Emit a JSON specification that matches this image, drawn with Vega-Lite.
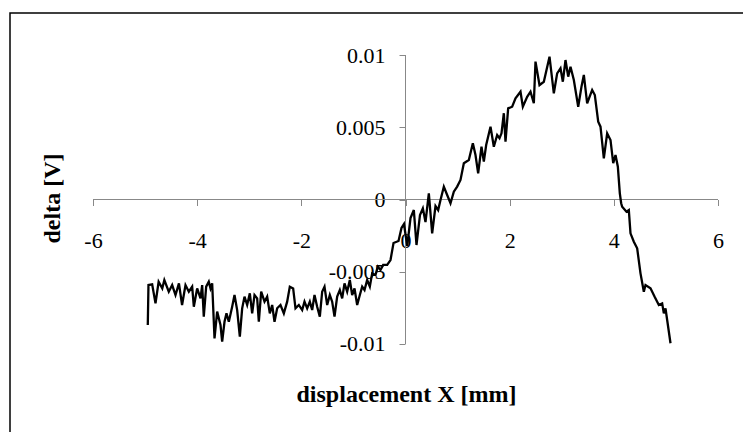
{
  "$schema": "https://vega.github.io/schema/vega-lite/v6.json",
  "width": 740,
  "height": 425,
  "autosize": "none",
  "padding": {"left": 10, "top": 13, "right": 0, "bottom": 0},
  "background": "white",
  "config": {
    "view": {"stroke": "black", "strokeWidth": 1.5},
    "axis": {
      "grid": false,
      "domain": false,
      "tickColor": "#888888",
      "tickSize": 6,
      "tickWidth": 1,
      "labelFont": "Liberation Serif",
      "labelFontSize": 22,
      "labelColor": "black",
      "labelFlush": false,
      "labelOverlap": false,
      "labelBound": false,
      "titleFont": "Liberation Serif",
      "titleFontSize": 24,
      "titleFontWeight": "bold",
      "titleColor": "black"
    }
  },
  "datasets": {
    "curve": [
      {"x": -4.948, "y": -0.00869}, {"x": -4.935, "y": -0.00592}, {"x": -4.864, "y": -0.00587}, {"x": -4.80, "y": -0.00719},
      {"x": -4.74, "y": -0.00569}, {"x": -4.67, "y": -0.00615}, {"x": -4.63, "y": -0.00557}, {"x": -4.545, "y": -0.00638},
      {"x": -4.48, "y": -0.00592}, {"x": -4.416, "y": -0.00661}, {"x": -4.35, "y": -0.0058}, {"x": -4.29, "y": -0.0073},
      {"x": -4.224, "y": -0.00592}, {"x": -4.16, "y": -0.00638}, {"x": -4.096, "y": -0.00603}, {"x": -4.064, "y": -0.00742},
      {"x": -4.00, "y": -0.00615}, {"x": -3.936, "y": -0.00684}, {"x": -3.904, "y": -0.00592}, {"x": -3.873, "y": -0.00811},
      {"x": -3.827, "y": -0.00603}, {"x": -3.777, "y": -0.00569}, {"x": -3.744, "y": -0.00615}, {"x": -3.712, "y": -0.0058},
      {"x": -3.667, "y": -0.00961}, {"x": -3.616, "y": -0.00776}, {"x": -3.552, "y": -0.00869}, {"x": -3.52, "y": -0.00984},
      {"x": -3.475, "y": -0.00846}, {"x": -3.437, "y": -0.00788}, {"x": -3.392, "y": -0.00846}, {"x": -3.328, "y": -0.00742},
      {"x": -3.283, "y": -0.00661}, {"x": -3.232, "y": -0.00765}, {"x": -3.181, "y": -0.00949}, {"x": -3.136, "y": -0.00753},
      {"x": -3.091, "y": -0.00672}, {"x": -3.04, "y": -0.0073}, {"x": -2.989, "y": -0.00649}, {"x": -2.944, "y": -0.00788},
      {"x": -2.899, "y": -0.00661}, {"x": -2.848, "y": -0.00684}, {"x": -2.816, "y": -0.00846}, {"x": -2.771, "y": -0.00638},
      {"x": -2.707, "y": -0.00707}, {"x": -2.656, "y": -0.00672}, {"x": -2.605, "y": -0.00788}, {"x": -2.56, "y": -0.0073},
      {"x": -2.515, "y": -0.00846}, {"x": -2.464, "y": -0.00753}, {"x": -2.40, "y": -0.0073}, {"x": -2.336, "y": -0.00788},
      {"x": -2.272, "y": -0.00707}, {"x": -2.221, "y": -0.00603}, {"x": -2.157, "y": -0.00615}, {"x": -2.112, "y": -0.00753},
      {"x": -2.048, "y": -0.0073}, {"x": -1.984, "y": -0.00765}, {"x": -1.939, "y": -0.00707}, {"x": -1.888, "y": -0.00753},
      {"x": -1.837, "y": -0.00707}, {"x": -1.792, "y": -0.00765}, {"x": -1.747, "y": -0.00661}, {"x": -1.696, "y": -0.00742},
      {"x": -1.645, "y": -0.00811}, {"x": -1.60, "y": -0.00638}, {"x": -1.555, "y": -0.00603}, {"x": -1.504, "y": -0.0073},
      {"x": -1.453, "y": -0.00661}, {"x": -1.408, "y": -0.00707}, {"x": -1.363, "y": -0.00811}, {"x": -1.312, "y": -0.00672},
      {"x": -1.261, "y": -0.00626}, {"x": -1.216, "y": -0.00684}, {"x": -1.171, "y": -0.0058}, {"x": -1.12, "y": -0.00638},
      {"x": -1.069, "y": -0.00557}, {"x": -1.024, "y": -0.00661}, {"x": -0.979, "y": -0.00615}, {"x": -0.928, "y": -0.0073},
      {"x": -0.877, "y": -0.00661}, {"x": -0.832, "y": -0.00603}, {"x": -0.787, "y": -0.00626}, {"x": -0.736, "y": -0.00557},
      {"x": -0.685, "y": -0.00603}, {"x": -0.64, "y": -0.00511}, {"x": -0.576, "y": -0.00522}, {"x": -0.531, "y": -0.00465},
      {"x": -0.48, "y": -0.00488}, {"x": -0.429, "y": -0.00453}, {"x": -0.352, "y": -0.00453}, {"x": -0.288, "y": -0.00419},
      {"x": -0.23, "y": -0.00301}, {"x": -0.134, "y": -0.00287}, {"x": -0.077, "y": -0.00197}, {"x": -0.029, "y": -0.0017},
      {"x": 0.033, "y": -0.00322}, {"x": 0.096, "y": -0.00128}, {"x": 0.16, "y": -0.00073}, {"x": 0.211, "y": -0.00315},
      {"x": 0.278, "y": -0.00107}, {"x": 0.333, "y": -0.00061}, {"x": 0.384, "y": -0.00156}, {"x": 0.448, "y": 0.00043},
      {"x": 0.512, "y": -0.00234}, {"x": 0.576, "y": -0.00045}, {"x": 0.627, "y": -0.00073}, {"x": 0.672, "y": -0.00003},
      {"x": 0.736, "y": 0.00089}, {"x": 0.80, "y": 0.00031}, {"x": 0.864, "y": -0.00026}, {"x": 0.928, "y": 0.00054},
      {"x": 0.992, "y": 0.00089}, {"x": 1.056, "y": 0.00135}, {"x": 1.12, "y": 0.00251}, {"x": 1.216, "y": 0.00273},
      {"x": 1.293, "y": 0.00389}, {"x": 1.344, "y": 0.00308}, {"x": 1.395, "y": 0.00181}, {"x": 1.459, "y": 0.00365},
      {"x": 1.504, "y": 0.00262}, {"x": 1.549, "y": 0.00377}, {"x": 1.632, "y": 0.00504}, {"x": 1.696, "y": 0.00365},
      {"x": 1.76, "y": 0.00446}, {"x": 1.805, "y": 0.00424}, {"x": 1.843, "y": 0.00458}, {"x": 1.888, "y": 0.00597},
      {"x": 1.92, "y": 0.004}, {"x": 1.971, "y": 0.00631}, {"x": 2.048, "y": 0.00642}, {"x": 2.112, "y": 0.007},
      {"x": 2.208, "y": 0.00746}, {"x": 2.253, "y": 0.00642}, {"x": 2.336, "y": 0.00711}, {"x": 2.40, "y": 0.00746},
      {"x": 2.464, "y": 0.00666}, {"x": 2.496, "y": 0.00954}, {"x": 2.573, "y": 0.00792}, {"x": 2.656, "y": 0.00815},
      {"x": 2.765, "y": 0.00988}, {"x": 2.848, "y": 0.00735}, {"x": 2.912, "y": 0.00873}, {"x": 2.976, "y": 0.00908},
      {"x": 3.021, "y": 0.00815}, {"x": 3.072, "y": 0.00965}, {"x": 3.124, "y": 0.0085}, {"x": 3.168, "y": 0.00919},
      {"x": 3.232, "y": 0.00827}, {"x": 3.316, "y": 0.00642}, {"x": 3.379, "y": 0.00781}, {"x": 3.424, "y": 0.00862},
      {"x": 3.488, "y": 0.00666}, {"x": 3.584, "y": 0.00758}, {"x": 3.635, "y": 0.00723}, {"x": 3.70, "y": 0.00538},
      {"x": 3.744, "y": 0.00504}, {"x": 3.808, "y": 0.00285}, {"x": 3.872, "y": 0.00458}, {"x": 3.936, "y": 0.00412},
      {"x": 3.988, "y": 0.00251}, {"x": 4.032, "y": 0.00308}, {"x": 4.077, "y": 0.00227}, {"x": 4.115, "y": 0.00043},
      {"x": 4.141, "y": -0.00026}, {"x": 4.16, "y": -0.0005}, {"x": 4.243, "y": -0.00084}, {"x": 4.288, "y": -0.00073},
      {"x": 4.32, "y": -0.00234}, {"x": 4.384, "y": -0.00292}, {"x": 4.448, "y": -0.00338}, {"x": 4.512, "y": -0.00511},
      {"x": 4.576, "y": -0.00638}, {"x": 4.608, "y": -0.00592}, {"x": 4.704, "y": -0.00615}, {"x": 4.781, "y": -0.00672},
      {"x": 4.864, "y": -0.0073}, {"x": 4.928, "y": -0.00719}, {"x": 4.96, "y": -0.00788}, {"x": 4.992, "y": -0.00753},
      {"x": 5.024, "y": -0.00834}, {"x": 5.088, "y": -0.00995}
    ],
    "axislines": [
      {"x": -6, "x2": 6, "y": 0, "y2": 0},
      {"x": 0, "x2": 0, "y": -0.01, "y2": 0.01}
    ]
  },
  "encoding": {
    "x": {
      "field": "x",
      "type": "quantitative",
      "scale": {"domain": [-7.5936, 6.6144], "nice": false, "zero": false},
      "axis": {
        "values": [-6, -4, -2, 0, 2, 4, 6],
        "format": "d",
        "labelExpr": "replace(datum.label, '\u2212', '-')",
        "offset": -238.5,
        "labelPadding": 25,
        "labelBaseline": "top",
        "title": "displacement X [mm]",
        "titleX": 396,
        "titleY": 202,
        "titleAlign": "center",
        "titleBaseline": "alphabetic",
        "titleAnchor": null
      }
    },
    "y": {
      "field": "y",
      "type": "quantitative",
      "scale": {"domain": [-0.0165052, 0.0129066], "nice": false, "zero": false},
      "axis": {
        "values": [-0.01, -0.005, 0, 0.005, 0.01],
        "format": "~g",
        "labelExpr": "replace(datum.label, '\u2212', '-')",
        "offset": -395,
        "labelPadding": 14,
        "title": "delta [V]",
        "titleX": -346,
        "titleY": 185,
        "titleAngle": -90,
        "titleAlign": "center",
        "titleBaseline": "alphabetic"
      }
    }
  },
  "layer": [
    {
      "data": {"name": "axislines"},
      "mark": {"type": "rule", "color": "#888888", "strokeWidth": 1},
      "encoding": {
        "x2": {"field": "x2"},
        "y2": {"field": "y2"}
      }
    },
    {
      "data": {"name": "curve"},
      "mark": {"type": "line", "color": "black", "strokeWidth": 2.3, "strokeJoin": "miter"},
      "encoding": {}
    }
  ]
}
